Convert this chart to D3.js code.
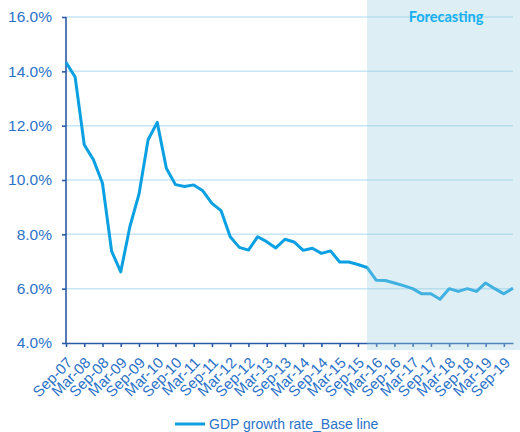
<!DOCTYPE html>
<html>
<head>
<meta charset="utf-8">
<script src="https://cdn.jsdelivr.net/npm/d3@7"></script>
<style>
  html, body { margin: 0; padding: 0; background: #fff; }
  svg { display: block; font-family: "Liberation Sans", Arial, sans-serif; }
</style>
</head>
<body>
<svg id="chart" width="520" height="432"></svg>
<script>
// quarterly, Sep-07 .. Dec-19
let quarters = [
  'Sep-07', 'Dec-07', 'Mar-08', 'Jun-08', 'Sep-08', 'Dec-08', 'Mar-09', 'Jun-09',
  'Sep-09', 'Dec-09', 'Mar-10', 'Jun-10', 'Sep-10', 'Dec-10', 'Mar-11', 'Jun-11',
  'Sep-11', 'Dec-11', 'Mar-12', 'Jun-12', 'Sep-12', 'Dec-12', 'Mar-13', 'Jun-13',
  'Sep-13', 'Dec-13', 'Mar-14', 'Jun-14', 'Sep-14', 'Dec-14', 'Mar-15', 'Jun-15',
  'Sep-15', 'Dec-15', 'Mar-16', 'Jun-16', 'Sep-16', 'Dec-16', 'Mar-17', 'Jun-17',
  'Sep-17', 'Dec-17', 'Mar-18', 'Jun-18', 'Sep-18', 'Dec-18', 'Mar-19', 'Jun-19',
  'Sep-19', 'Dec-19'
];

let gdpBaseLine = [
  14.33, 13.79, 11.30, 10.75, 9.88, 7.38, 6.62, 8.28, 9.48, 11.48,
  12.12, 10.43, 9.83, 9.76, 9.82, 9.60, 9.14, 8.87, 7.91, 7.52,
  7.42, 7.91, 7.73, 7.50, 7.82, 7.72, 7.41, 7.49, 7.30, 7.39,
  6.98, 6.98, 6.89, 6.78, 6.31, 6.30, 6.21, 6.11, 6.00, 5.81,
  5.81, 5.61, 6.00, 5.90, 6.00, 5.90, 6.21, 6.00, 5.81, 6.02
];

// labels shown on every second quarter
let xTickLabels = quarters.filter((q, i) => i % 2 === 0);
let yTicks = [4, 6, 8, 10, 12, 14, 16];

let forecastFrom = 'Dec-15';
let forecastLabel = 'Forecasting';
let seriesName = 'GDP growth rate_Base line';

let svg = d3.select('#chart');

let x = d3.scalePoint()
  .domain(quarters)
  .range([66, 513]);

let y = d3.scaleLinear()
  .domain([4, 16])
  .range([343, 17]);

// gridlines
svg.append('g')
  .selectAll('line')
  .data(yTicks.slice(1))
  .join('line')
  .attr('x1', 66)
  .attr('x2', 513)
  .attr('y1', d => y(d))
  .attr('y2', d => y(d))
  .attr('stroke', '#c6e6f6')
  .attr('stroke-width', 1.5);

// y axis
let yAxis = svg.append('g')
  .attr('transform', 'translate(66,0)')
  .call(d3.axisLeft(y)
    .tickValues(yTicks)
    .tickSize(4)
    .tickPadding(10)
    .tickFormat(d => d3.format('.1f')(d) + '%'));

yAxis.select('.domain')
  .attr('d', `M0,${y(4)}V${y(16)}`);

yAxis.selectAll('text')
  .attr('font-size', 15.5)
  .attr('fill', '#2b72c8');

// x axis
let xAxis = svg.append('g')
  .attr('transform', `translate(0,${y(4)})`)
  .call(d3.axisBottom(x)
    .tickValues(xTickLabels)
    .tickSize(4)
    .tickSizeOuter(0));

xAxis.selectAll('text')
  .attr('font-size', 15)
  .attr('fill', '#2b72c8')
  .attr('text-anchor', 'end')
  .attr('y', 0)
  .attr('dy', '0.35em')
  .attr('transform', 'translate(3,17) rotate(-45)');

svg.selectAll('.domain, .tick line')
  .attr('stroke', '#2a5aa8')
  .attr('stroke-width', 1.6);

// series line
svg.append('path')
  .datum(gdpBaseLine)
  .attr('fill', 'none')
  .attr('stroke', '#0aa0e2')
  .attr('stroke-width', 3)
  .attr('stroke-linejoin', 'round')
  .attr('d', d3.line()
    .x((d, i) => x(quarters[i]))
    .y(d => y(d)));

// forecast shading, laid over the plot
svg.append('rect')
  .attr('x', x(forecastFrom))
  .attr('y', 0)
  .attr('width', 520 - x(forecastFrom))
  .attr('height', 350)
  .attr('fill', 'rgb(161,208,224)')
  .attr('fill-opacity', 0.36);

svg.append('text')
  .attr('x', 446)
  .attr('y', 22)
  .attr('text-anchor', 'middle')
  .attr('font-family', 'Lato, "Open Sans", sans-serif')
  .attr('font-weight', 'bold')
  .attr('font-size', 14.5)
  .attr('fill', '#14b0f0')
  .text(forecastLabel);

// legend
let legend = svg.append('g')
  .attr('transform', 'translate(175,424)');

legend.append('line')
  .attr('x1', 0)
  .attr('x2', 30)
  .attr('stroke', '#0aa0e2')
  .attr('stroke-width', 3);

legend.append('text')
  .attr('x', 34)
  .attr('dy', '0.35em')
  .attr('font-size', 14)
  .attr('fill', '#2b72c8')
  .text(seriesName);
</script>
</body>
</html>
